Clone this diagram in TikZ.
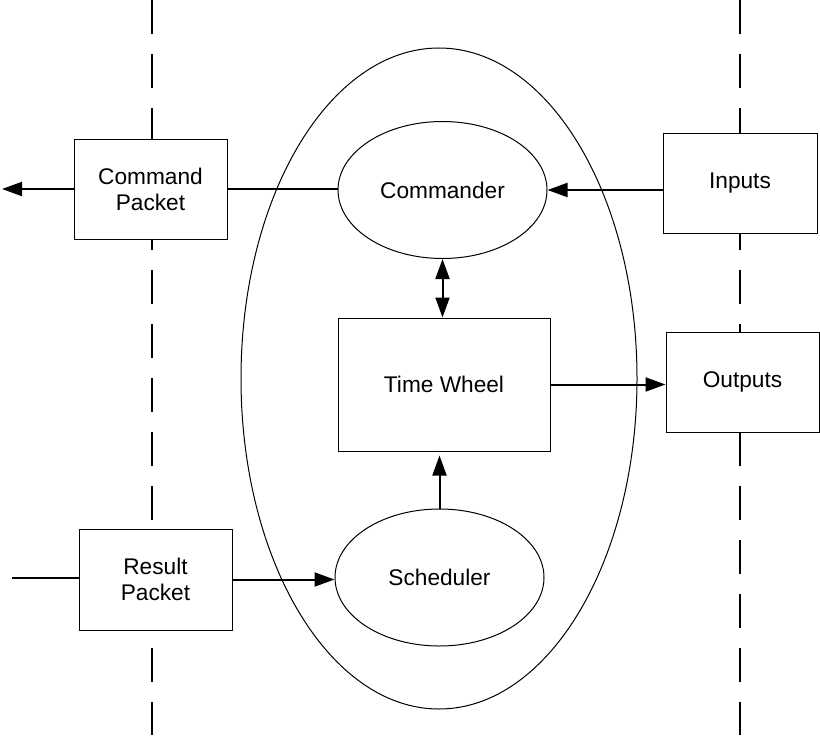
\documentclass[tikz,border=0pt]{standalone}
\usepackage{fontspec}
\setmainfont{Liberation Sans}
\usetikzlibrary{shapes.geometric,arrows.meta}

\tikzset{every picture/.style={line width=0.75pt}}
\tikzset{
  box/.style={draw, fill=white, rectangle, align=center, inner sep=0.75pt,
    font=\fontsize{17}{19.5}\selectfont},
  oval/.style={draw, fill=white, ellipse, align=center, inner sep=0.75pt,
    font=\fontsize{17}{19.5}\selectfont},
  conn/.style={line width=1.5pt, -{Triangle[length=15pt,width=10.5pt]}},
  wire/.style={line width=1.5pt},
  border/.style={line width=1.5pt, dash pattern=on 25.5pt off 15pt}
}

\begin{document}
\begin{tikzpicture}[x=0.75pt,y=0.75pt,yscale=-1,xscale=1]
    \useasboundingbox (0,0) rectangle (820,735);

    %Straight Lines [id:left border]
    \draw [border] (152,0) -- (152,735) ;
    %Straight Lines [id:right border]
    \draw [border] (740,0) -- (740,735) ;

    %Shape: Ellipse [id:core]
    \draw (439,378.5) ellipse [x radius=198, y radius=330.5] ;

    %Shape: Rectangle [id:cmdpkt]
    \node [box, minimum width=114.75pt, minimum height=75pt] (cmdpkt) at (150.5,189) {Command\\Packet};
    %Shape: Ellipse [id:commander]
    \node [oval, minimum width=156.75pt, minimum height=102.75pt] (commander) at (442.5,190) {Commander};
    %Shape: Rectangle [id:inputs]
    \node [box, minimum width=115.5pt, minimum height=75pt] (inputs) at (740,183) {Inputs};

    %Shape: Rectangle [id:timewheel]
    \node [box, minimum width=159pt, minimum height=99.75pt] (timewheel) at (444,384.5) {Time Wheel};
    %Shape: Rectangle [id:outputs]
    \node [box, minimum width=114.75pt, minimum height=75pt] (outputs) at (742.5,382) {Outputs};

    %Shape: Rectangle [id:respkt]
    \node [box, minimum width=114.75pt, minimum height=75.75pt] (respkt) at (155.5,579.5) {Result\\Packet};
    %Shape: Ellipse [id:scheduler]
    \node [oval, minimum width=156.75pt, minimum height=102.75pt] (scheduler) at (439.5,577.5) {Scheduler};

    %Free ends
    \coordinate (cmdout) at (2,189) ;
    \coordinate (resin) at (12,578) ;

    %Straight Lines [id:connectors]
    \draw [conn] (cmdpkt.west) -- (cmdout) ;
    \draw [wire] (commander.west |- cmdpkt.east) -- (cmdpkt.east) ;
    \draw [conn] (inputs.west |- commander.east) -- (commander.east) ;
    \draw [conn, {Triangle[length=15pt,width=10.5pt]}-{Triangle[length=15pt,width=10.5pt]}] (commander.south) -- (commander.south |- timewheel.north) ;
    \draw [conn] (timewheel.east) -- (timewheel.east -| outputs.west) ;
    \draw [conn, shorten >=3pt] (scheduler.north) -- (scheduler.north |- timewheel.south) ;
    \draw [wire] (resin) -- (resin -| respkt.west) ;
    \draw [conn] (respkt.east) -- (respkt.east -| scheduler.west) ;

\end{tikzpicture}
\end{document}
